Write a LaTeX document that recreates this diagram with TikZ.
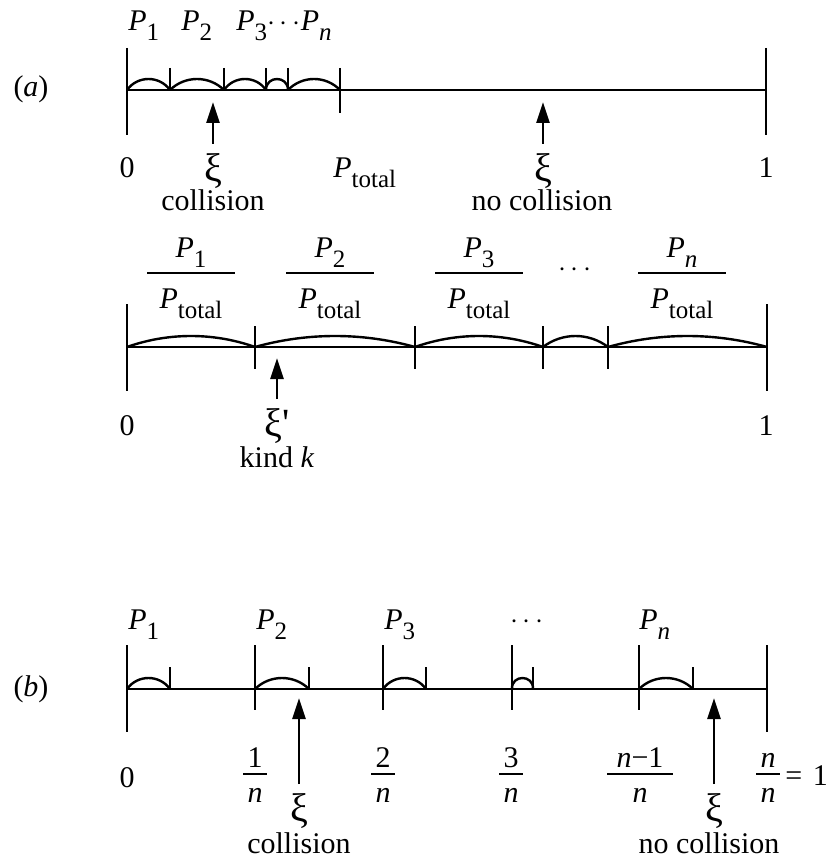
\documentclass[tikz,border=0pt]{standalone}
\usepackage{fontspec}
\setmainfont{Liberation Serif}
\usetikzlibrary{arrows.meta}
\newcommand\Ps[1]{\textit{P}\raisebox{-5pt}{\fontsize{12.5}{14}\selectfont #1}}
\newcommand\segarc[3]{%
  \pgfmathsetmacro\sgdx{(#2-#1)/3-161.333/(#2-#1)}%
  \draw[arcline] (#1,#3) .. controls ({#1+\sgdx},{#3-14.667}) and ({#2-\sgdx},{#3-14.667}) .. (#2,#3);}
\newcommand\fracnode[8]{% name x ybar halfwidth num den upoffset downoffset
  \node[txt,anchor=base] (#1-num) at (#2,#3-#7) {#5};
  \node[txt,anchor=base] (#1-den) at (#2,#3+#8) {#6};
  \draw[barline] (#2-#4,#3) -- (#2+#4,#3);}
\begin{document}
\begin{tikzpicture}[x=0.5pt,y=-0.5pt,line width=1.35pt,
  txt/.style={inner sep=0pt,font=\fontsize{15}{18}\selectfont},
  xi/.style={inner sep=0pt,font=\fontsize{20}{22}\selectfont},
  arcline/.style={line width=1.2pt},
  barline/.style={line width=1.3pt},
  arr/.style={line width=1.35pt,-{Triangle[length=10.5pt,width=6.5pt]}}]
\useasboundingbox (0,0) rectangle (830,861);

% ---------------- (a) first line ----------------
\node[txt,anchor=base] (lab-a) at (31,97) {(\textit{a})};
\draw (127,48) -- (127,135);
\draw (766,48) -- (766,135);
\draw (127,90) -- (766,90);
\foreach \t in {170,224,266,288} \draw (\t,68) -- (\t,90);
\draw (340,68) -- (340,113);
\segarc{127}{170}{90}
\segarc{170}{224}{90}
\segarc{224}{266}{90}
\segarc{266}{288}{90}
\segarc{288}{340}{90}
\node[txt,anchor=base west] (a-p1) at (127,31) {\Ps{1}};
\node[txt,anchor=base west] (a-p2) at (180,31) {\Ps{2}};
\node[txt,anchor=base west] (a-p3n) at (235,31) {\Ps{3}$\cdots$\Ps{\textit{n}}};
\node[txt,anchor=base] (a-zero) at (127,178) {0};
\node[xi,anchor=north] (a-xi1) at (213,152) {ξ};
\node[txt,anchor=base] (a-col) at (213,211) {collision};
\node[txt,anchor=base west] (a-ptot) at (332,178) {\Ps{total}};
\node[xi,anchor=north] (a-xi2) at (543,152) {ξ};
\node[txt,anchor=base] (a-ncol) at (542,211) {no collision};
\node[txt,anchor=base] (a-one) at (766,178) {1};
\coordinate (a-tip1) at (213,102);
\coordinate (a-tip2) at (543,102);
\draw[arr] ([yshift=4pt]a-xi1.north) -- (a-tip1);
\draw[arr] ([yshift=4pt]a-xi2.north) -- (a-tip2);

% ---------------- (a) second line ----------------
\draw (127,304) -- (127,391);
\draw (767,304) -- (767,391);
\draw (127,347) -- (767,347);
\foreach \t in {255,415,543,608} \draw (\t,326) -- (\t,369);
\segarc{127}{255}{347}
\segarc{255}{415}{347}
\segarc{415}{543}{347}
\segarc{543}{608}{347}
\segarc{608}{767}{347}
\fracnode{f1}{191}{273}{44}{\Ps{1}}{\Ps{total}}{16}{35}
\fracnode{f2}{330}{273}{44}{\Ps{2}}{\Ps{total}}{16}{35}
\fracnode{f3}{479}{273}{44}{\Ps{3}}{\Ps{total}}{16}{35}
\fracnode{fn}{682}{273}{44}{\Ps{\textit{n}}}{\Ps{total}}{16}{35}
\node[txt,anchor=base] (a2-dots) at (575,276) {$\cdots$};
\node[txt,anchor=base] (a2-zero) at (127,435) {0};
\node[txt,anchor=base] (a2-one) at (766,435) {1};
\node[xi,anchor=north] (a2-xi) at (277,407) {ξ\textquotesingle};
\node[txt,anchor=base] (a2-kind) at (277,467) {kind \textit{k}};
\coordinate (a2-tip) at (277,358);
\draw[arr] ([yshift=4pt]a2-xi.north) -- (a2-tip);

% ---------------- (b) ----------------
\node[txt,anchor=base] (lab-b) at (31,696) {(\textit{b})};
\draw (127,645) -- (127,732);
\draw (767,645) -- (767,732);
\draw (127,689) -- (767,689);
\foreach \t in {255,383,512,639} \draw (\t,645) -- (\t,710);
\foreach \t in {170,309,426,533,693} \draw (\t,667) -- (\t,689);
\segarc{127}{170}{689}
\segarc{255}{309}{689}
\segarc{383}{426}{689}
\segarc{512}{533}{689}
\segarc{639}{693}{689}
\node[txt,anchor=base west] (b-p1) at (127,629) {\Ps{1}};
\node[txt,anchor=base west] (b-p2) at (255,629) {\Ps{2}};
\node[txt,anchor=base west] (b-p3) at (383,629) {\Ps{3}};
\node[txt,anchor=base] (b-dots) at (527,628) {$\cdots$};
\node[txt,anchor=base west] (b-pn) at (638,629) {\Ps{\textit{n}}};
\node[txt,anchor=base] (b-zero) at (127,787) {0};
\fracnode{g1}{255}{774}{12}{1}{\textit{n}}{7}{28}
\fracnode{g2}{383}{774}{12}{2}{\textit{n}}{7}{28}
\fracnode{g3}{511}{774}{12}{3}{\textit{n}}{7}{28}
\fracnode{gm}{640}{774}{33}{\textit{n}−1}{\textit{n}}{7}{28}
\fracnode{gn}{768}{774}{12}{\textit{n}}{\textit{n}}{7}{28}
\node[txt,anchor=base west] (b-eq) at (784,785) {=\hspace{0.35em}1};
\node[xi,anchor=north] (b-xi1) at (299,792) {ξ};
\node[txt,anchor=base] (b-col) at (299,853) {collision};
\node[xi,anchor=north] (b-xi2) at (714,792) {ξ};
\node[txt,anchor=base] (b-ncol) at (709,853) {no collision};
\coordinate (b-tip1) at (299,698);
\coordinate (b-tip2) at (714,698);
\draw[arr] ([yshift=4pt]b-xi1.north) -- (b-tip1);
\draw[arr] ([yshift=4pt]b-xi2.north) -- (b-tip2);
\end{tikzpicture}
\end{document}
